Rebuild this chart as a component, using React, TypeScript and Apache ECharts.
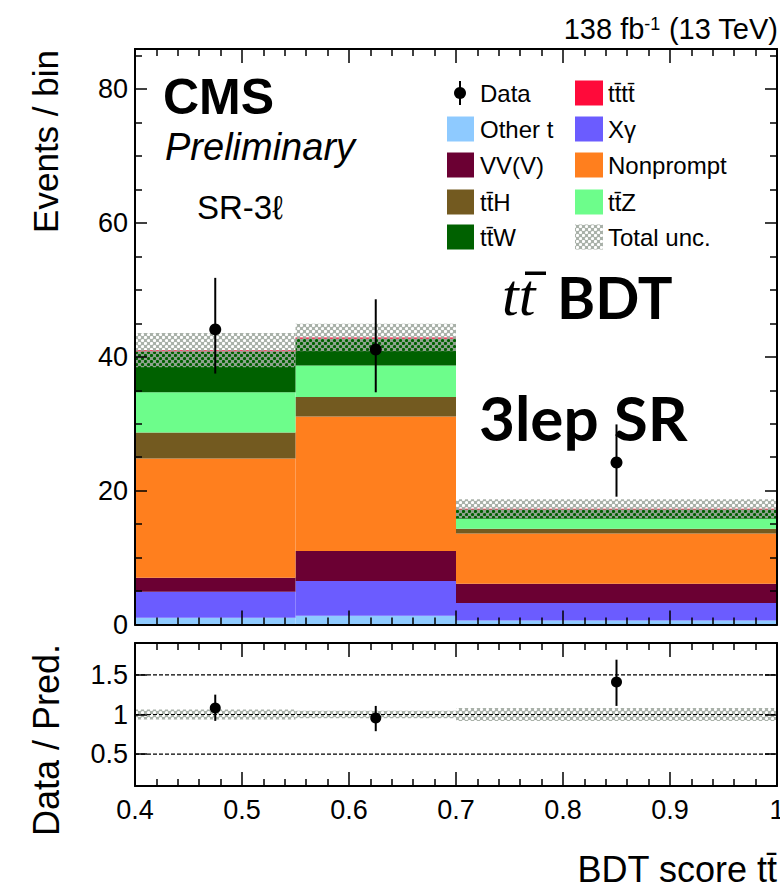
import React, { useEffect, useRef } from 'react';
import * as echarts from 'echarts';

// ---------- data ----------
const binEdges = [0.4, 0.55, 0.7, 1.0];
const processNames = ['Other t', 'Xγ', 'VV(V)', 'Nonprompt', 'tt\u0304H', 'tt\u0304Z', 'tt\u0304W', 'tt\u0304tt\u0304'];
const processColors = ['#8ecaff', '#6b5cff', '#6b0033', '#ff7f1e', '#735a20', '#6dfd8b', '#006100', '#ff0a3a'];
const otherT = [1.0, 1.3, 0.6];
const xGamma = [3.9, 5.2, 2.6];
const vvv = [2.1, 4.5, 2.9];
const nonprompt = [17.8, 20.1, 7.5];
const ttH = [3.9, 2.9, 0.7];
const ttZ = [6.0, 4.7, 1.5];
const ttW = [6.1, 4.0, 1.4];
const tttt = [0.2, 0.2, 0.1];
const totalUnc = [2.55, 2.05, 1.42];

const dataX = [0.475, 0.625, 0.85];
const dataY = [44.1, 41.1, 24.2];
const dataLow = [37.5, 34.7, 19.1];
const dataHigh = [51.8, 48.6, 29.9];

const ratioY = [1.083, 0.957, 1.41];
const ratioLow = [0.92, 0.79, 1.108];
const ratioHigh = [1.25, 1.108, 1.69];
const ratioUnc = [0.062, 0.048, 0.082];
const ratioRefLines = [0.5, 1, 1.5];

const mainYMajor = [0, 20, 40, 60, 80];
const mainYMinor = [5, 10, 15, 25, 30, 35, 45, 50, 55, 65, 70, 75, 85];
const ratioYTicks = [0.5, 1, 1.5];

const legendLeft = ['Data', 'Other t', 'VV(V)', 'tt\u0304H', 'tt\u0304W'];
const legendRight = ['tt\u0304tt\u0304', 'Xγ', 'Nonprompt', 'tt\u0304Z', 'Total unc.'];

const FONT = 'Liberation Sans';

function makeHatch(): string {
  const c = document.createElement('canvas');
  c.width = 6;
  c.height = 6;
  const ctx = c.getContext('2d')!;
  ctx.fillStyle = 'rgba(160,168,160,0.9)';
  ctx.fillRect(0, 0, 6, 6);
  ctx.globalCompositeOperation = 'destination-out';
  ctx.fillStyle = '#000';
  for (const [cx, cy] of [[1.5, 1.5], [4.5, 4.5]]) {
    ctx.beginPath();
    ctx.arc(cx, cy, 1.6, 0, Math.PI * 2);
    ctx.fill();
  }
  return c.toDataURL();
}

export default function App() {
  const ref = useRef<HTMLDivElement>(null);
  useEffect(() => {
    if (!ref.current) return;
    const chart = echarts.init(ref.current, null, { renderer: 'svg' });
    const hatchUrl = makeHatch();
    const hatch: any = { image: hatchUrl, repeat: 'repeat', imageWidth: 6, imageHeight: 6 };

    const comps = [otherT, xGamma, vvv, nonprompt, ttH, ttZ, ttW, tttt];
    const stackItems: number[][] = [];
    const totals = [0, 0, 0];
    comps.forEach((vals, ci) => {
      vals.forEach((v, i) => {
        stackItems.push([binEdges[i], binEdges[i + 1], totals[i], totals[i] + v, ci]);
        totals[i] += v;
      });
    });
    const bandItems = totals.map((t, i) => [binEdges[i], binEdges[i + 1], t - totalUnc[i], t + totalUnc[i]]);
    const ratioBandItems = ratioUnc.map((u, i) => [binEdges[i], binEdges[i + 1], 1 - u, 1 + u]);
    const dataItems = dataX.map((x, i) => [x, dataY[i], dataLow[i], dataHigh[i]]);
    const ratioItems = dataX.map((x, i) => [x, ratioY[i], ratioLow[i], ratioHigh[i]]);
    const xMin = binEdges[0];
    const xMax = binEdges[binEdges.length - 1];

    const rectRender = (fillFn: (ci: number) => any) => (params: any, api: any) => {
      const a = api.coord([api.value(0), api.value(3)]);
      const b = api.coord([api.value(1), api.value(2)]);
      return {
        type: 'rect',
        shape: { x: a[0], y: a[1], width: b[0] - a[0], height: b[1] - a[1] },
        style: { fill: fillFn(api.value(4)) },
      };
    };
    const pointRender = (r: number) => (params: any, api: any) => {
      const c = api.coord([api.value(0), api.value(1)]);
      const lo = api.coord([api.value(0), api.value(2)]);
      const hi = api.coord([api.value(0), api.value(3)]);
      return {
        type: 'group',
        children: [
          { type: 'line', shape: { x1: lo[0], y1: lo[1], x2: hi[0], y2: hi[1] }, style: { stroke: '#000', lineWidth: 2 } },
          { type: 'circle', shape: { cx: c[0], cy: c[1], r }, style: { fill: '#000' } },
        ],
      };
    };

    const axisLine = { show: true, onZero: false, lineStyle: { color: '#000', width: 2 } };
    const tickStyle = { color: '#000', width: 1.5 };
    const xAxisDef = (gridIndex: number, position: string, labels: boolean) => ({
      type: 'value', gridIndex, position, min: xMin, max: xMax, interval: 0.1, z: 10,
      axisLine,
      axisTick: { show: true, inside: true, length: 14, lineStyle: tickStyle },
      minorTick: { show: true, splitNumber: 5, length: 7, lineStyle: tickStyle },
      axisLabel: {
        show: labels, margin: 10, color: '#000', fontFamily: FONT, fontSize: 27,
        formatter: (v: number) => String(parseFloat(v.toFixed(2))),
      },
      splitLine: { show: false }, minorSplitLine: { show: false },
    });
    const yAxisDef = (gridIndex: number, position: string, min: number, max: number, ticks: number[], len: number, labels: boolean) => ({
      type: 'value', gridIndex, position, min, max, z: 10,
      axisLine,
      axisTick: { show: true, inside: true, length: len, customValues: ticks, lineStyle: tickStyle },
      axisLabel: {
        show: labels, customValues: ticks, margin: 7, color: '#000', fontFamily: FONT, fontSize: 27,
        formatter: (v: number) => String(parseFloat(v.toFixed(2))),
      },
      splitLine: { show: false },
    });

    const txt = (text: string, x: number, y: number, size: number, extra: any = {}) => ({
      type: 'text', x, y, z: 100, rotation: extra.rotation || 0,
      style: {
        text, fill: '#000', fontFamily: extra.family || FONT, fontSize: size,
        fontWeight: extra.weight || 'normal', fontStyle: extra.style || 'normal',
        align: extra.align || 'left', textAlign: extra.align || 'left',
        verticalAlign: 'middle', textVerticalAlign: 'middle', rich: extra.rich,
      },
    });

    const rowsY = [93, 129, 165, 202, 237];
    const legendGraphics: any[] = [];
    legendLeft.forEach((name, i) => {
      const y = rowsY[i];
      if (name === 'Data') {
        legendGraphics.push({ type: 'line', z: 100, shape: { x1: 460, y1: y - 12, x2: 460, y2: y + 12 }, style: { stroke: '#000', lineWidth: 2 } });
        legendGraphics.push({ type: 'circle', z: 100, shape: { cx: 460, cy: y, r: 6 }, style: { fill: '#000' } });
      } else {
        const ci = processNames.indexOf(name);
        legendGraphics.push({ type: 'rect', z: 100, shape: { x: 447, y: y - 12.5, width: 27, height: 25 }, style: { fill: processColors[ci] } });
      }
      legendGraphics.push(txt(name, 480, y, 24));
    });
    legendRight.forEach((name, i) => {
      const y = rowsY[i];
      const ci = processNames.indexOf(name);
      legendGraphics.push({
        type: 'rect', z: 100, shape: { x: 575, y: y - 12.5, width: 28, height: 25 },
        style: { fill: ci >= 0 ? processColors[ci] : hatch },
      });
      legendGraphics.push(txt(name, 608, y, 24));
    });

    const option: any = {
      animation: false,
      backgroundColor: '#fff',
      grid: [
        { left: 135, top: 49, width: 642, height: 575.5, outerBoundsMode: 'none', containLabel: false },
        { left: 135, top: 643, width: 642, height: 143, outerBoundsMode: 'none', containLabel: false },
      ],
      xAxis: [
        xAxisDef(0, 'bottom', false),
        xAxisDef(0, 'top', false),
        xAxisDef(1, 'bottom', true),
        xAxisDef(1, 'top', false),
      ],
      yAxis: [
        yAxisDef(0, 'left', 0, 86, mainYMajor, 12, true),
        yAxisDef(0, 'left', 0, 86, mainYMinor, 7, false),
        yAxisDef(0, 'right', 0, 86, mainYMajor, 12, false),
        yAxisDef(0, 'right', 0, 86, mainYMinor, 7, false),
        yAxisDef(1, 'left', 0.1, 1.9, ratioYTicks, 12, true),
        yAxisDef(1, 'right', 0.1, 1.9, ratioYTicks, 12, false),
      ],
      series: [
        {
          type: 'custom', xAxisIndex: 0, yAxisIndex: 0, z: 2, silent: true, clip: true,
          data: stackItems, encode: { x: [0, 1], y: [2, 3] },
          renderItem: rectRender((ci) => processColors[ci]),
        },
        {
          type: 'custom', xAxisIndex: 0, yAxisIndex: 0, z: 3, silent: true, clip: true,
          data: bandItems, encode: { x: [0, 1], y: [2, 3] },
          renderItem: rectRender(() => hatch),
        },
        {
          type: 'custom', xAxisIndex: 0, yAxisIndex: 0, z: 5, silent: true,
          data: dataItems, encode: { x: 0, y: [1, 2, 3] },
          renderItem: pointRender(6),
        },
        {
          type: 'custom', xAxisIndex: 2, yAxisIndex: 4, z: 3, silent: true, clip: true,
          data: ratioBandItems, encode: { x: [0, 1], y: [2, 3] },
          renderItem: rectRender(() => hatch),
        },
        {
          type: 'custom', xAxisIndex: 2, yAxisIndex: 4, z: 4, silent: true,
          data: ratioRefLines.map((v) => [v]), encode: { y: 0 },
          renderItem: (params: any, api: any) => {
            const a = api.coord([xMin, api.value(0)]);
            const b = api.coord([xMax, api.value(0)]);
            return {
              type: 'line', shape: { x1: a[0], y1: a[1], x2: b[0], y2: b[1] },
              style: { stroke: '#000', lineWidth: 1.2, lineDash: [4, 2] },
            };
          },
        },
        {
          type: 'custom', xAxisIndex: 2, yAxisIndex: 4, z: 5, silent: true,
          data: ratioItems, encode: { x: 0, y: [1, 2, 3] },
          renderItem: pointRender(5.5),
        },
      ],
      graphic: [
        txt('138 fb{sup|-1} (13 TeV)', 778, 29, 29, {
          align: 'right',
          rich: { sup: { fontSize: 18, fontFamily: FONT, verticalAlign: 'top', fill: '#000' } },
        }),
        txt('CMS', 163, 97, 50, { weight: 'bold' }),
        txt('Preliminary', 165, 147, 38, { style: 'italic' }),
        txt('SR-3ℓ', 197, 207, 33),
        ...legendGraphics,
        txt('tt', 502, 295, 60, { family: 'Liberation Serif', style: 'italic' }),
        { type: 'rect', z: 100, shape: { x: 525, y: 271.5, width: 21, height: 3.5 }, style: { fill: '#000' } },
        txt('BDT', 557, 296, 58, { family: 'Lato', weight: 'bold' }),
        txt('3lep SR', 479, 417, 62, { family: 'Lato', weight: 'bold' }),
        txt('Events / bin', 45, 50, 35, { rotation: Math.PI / 2, align: 'right' }),
        txt('Data / Pred.', 46, 644, 36, { rotation: Math.PI / 2, align: 'right' }),
        txt('BDT score tt\u0304', 777, 869, 36, { align: 'right' }),
      ],
    };
    chart.setOption(option);
    return () => chart.dispose();
  }, []);
  return (
    <div
      ref={ref}
      style={{ position: 'fixed', left: 0, top: 0, width: 780, height: 892, background: '#fff' }}
    />
  );
}
